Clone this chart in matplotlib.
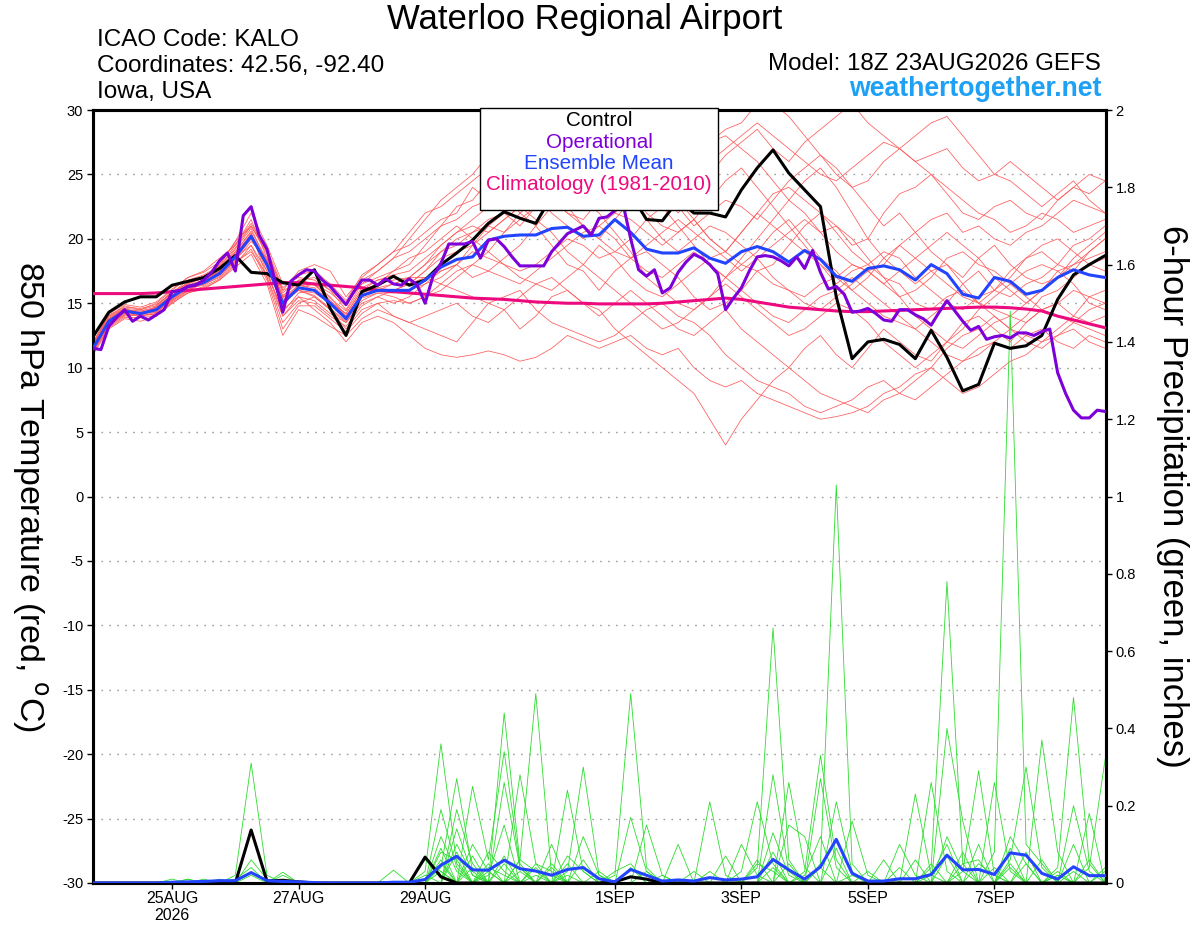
import matplotlib
matplotlib.use("Agg")
import matplotlib.pyplot as plt
import pandas as pd

plt.rcParams['font.family'] = ['Liberation Sans', 'DejaVu Sans']

# ---------------- DATA ----------------
run_start = "2026-08-23 18:00"
n_steps = 65          # 6-hourly ensemble output
n_steps_oper = 129    # 3-hourly operational output

title = "Waterloo Regional Airport"
header_left = ["ICAO Code: KALO", "Coordinates: 42.56, -92.40", "Iowa, USA"]
model_text = "Model: 18Z 23AUG2026 GEFS"
site_text = "weathertogether.net"
legend_labels = ["Control", "Operational", "Ensemble Mean", "Climatology (1981-2010)"]
tick_dates = ["2026-08-25", "2026-08-27", "2026-08-29", "2026-09-01", "2026-09-03", "2026-09-05", "2026-09-07"]
tick_labels = ["25AUG\n2026", "27AUG", "29AUG", "1SEP", "3SEP", "5SEP", "7SEP"]
temp_ticks = [30, 25, 20, 15, 10, 5, 0, -5, -10, -15, -20, -25, -30]
precip_ticks = [0, 0.2, 0.4, 0.6, 0.8, 1, 1.2, 1.4, 1.6, 1.8, 2]
precip_tick_labels = ["0", "0.2", "0.4", "0.6", "0.8", "1", "1.2", "1.4", "1.6", "1.8", "2"]

control_t = [12.4, 14.3, 15.1, 15.5, 15.5, 16.4, 16.7, 17.0, 17.7, 18.7, 17.4, 17.3, 16.6,
             16.4, 17.6, 14.6, 12.5, 15.9, 16.4, 17.1, 16.4, 16.8, 18.0, 18.9, 19.9, 21.2,
             22.1, 21.6, 21.2, 23.3, 24.0, 24.5, 24.5, 24.0, 23.5, 21.5, 21.4, 23.0, 22.0,
             22.0, 21.7, 23.8, 25.5, 26.9, 25.1, 23.8, 22.5, 15.5, 10.7, 12.0, 12.2, 11.8,
             10.7, 12.9, 10.8, 8.2, 8.7, 11.9, 11.5, 11.7, 12.5, 15.3, 17.2, 18.0, 18.7]

mean_t = [11.5, 13.6, 14.4, 14.2, 14.5, 15.5, 16.3, 16.6, 17.3, 18.6, 20.2, 18.0, 15.0,
          16.2, 16.0, 15.0, 13.8, 15.6, 16.0, 16.0, 16.0, 16.8, 17.8, 18.4, 18.6, 19.9,
          20.2, 20.3, 20.3, 20.8, 20.9, 20.2, 20.3, 21.5, 20.5, 19.2, 18.9, 18.9, 19.3,
          18.5, 18.1, 19.0, 19.4, 19.0, 18.2, 19.1, 18.4, 17.1, 16.7, 17.7, 17.9, 17.6,
          16.8, 18.0, 17.3, 15.7, 15.4, 17.0, 16.7, 15.7, 16.0, 17.0, 17.6, 17.2, 17.0]

clim_t = [15.75, 15.75, 15.75, 15.75, 15.8, 15.9, 16.0, 16.1, 16.2, 16.3, 16.4, 16.5, 16.6,
          16.6, 16.5, 16.4, 16.3, 16.2, 16.0, 15.9, 15.8, 15.7, 15.6, 15.5, 15.4, 15.35,
          15.3, 15.2, 15.1, 15.05, 15.0, 15.0, 14.95, 14.95, 14.95, 14.95, 15.0, 15.1, 15.2,
          15.3, 15.4, 15.3, 15.1, 14.9, 14.7, 14.6, 14.5, 14.4, 14.35, 14.35, 14.4, 14.45,
          14.5, 14.55, 14.6, 14.65, 14.7, 14.7, 14.65, 14.55, 14.4, 14.0, 13.7, 13.4, 13.1]

oper_t = [11.5, 11.4, 13.2, 13.9, 14.5, 13.6, 14.0, 13.7, 14.1, 14.5, 15.9, 16.0, 16.3,
          16.4, 16.8, 17.4, 18.3, 18.9, 17.5, 21.8, 22.5, 20.3, 19.2, 16.8, 14.3, 16.7,
          17.2, 17.6, 17.5, 16.8, 16.3, 15.6, 14.9, 15.9, 16.8, 16.8, 16.4, 16.9, 16.5,
          16.4, 16.9, 16.4, 15.0, 17.1, 18.1, 19.6, 19.6, 19.6, 19.8, 18.5, 19.9, 20.0,
          19.4, 18.6, 17.9, 17.9, 17.9, 17.9, 19.0, 19.7, 20.4, 20.7, 21.0, 20.3, 21.6,
          21.7, 22.2, 22.8, 20.0, 17.6, 17.1, 17.6, 15.8, 16.2, 17.4, 18.2, 18.8, 18.5,
          18.0, 17.3, 14.5, 15.4, 16.2, 17.5, 18.6, 18.7, 18.6, 18.3, 17.9, 18.6, 17.7,
          19.1, 17.4, 16.1, 16.3, 15.7, 14.3, 14.4, 14.6, 14.2, 13.7, 13.6, 14.5, 14.5,
          14.1, 13.8, 13.3, 14.3, 15.2, 14.4, 13.6, 12.9, 13.2, 12.2, 12.4, 12.5, 12.3,
          12.7, 12.7, 12.5, 12.8, 13.0, 9.6, 8.0, 6.7, 6.1, 6.1, 6.7, 6.6]

member_t_01 = [11.8, 13.9, 14.6, 14.0, 14.8, 15.9, 16.5, 17.0, 17.8, 19.5, 21.5, 18.5, 15.5, 16.8, 17.0, 16.0, 14.5, 16.5, 17.0, 17.5, 18.0, 19.5, 21.0, 22.5, 23.0, 24.5, 25.0, 24.0, 23.5, 25.0, 26.0, 25.5, 24.0, 25.5, 24.0, 22.5, 23.0, 25.0, 26.5, 27.5, 28.0, 27.0, 26.0, 24.5, 23.0, 22.0, 20.5, 21.0, 19.5, 20.0, 22.0, 23.5, 24.0, 25.0, 23.5, 22.0, 21.5, 22.5, 23.0, 22.0, 21.5, 23.0, 24.0, 23.5, 24.5]
member_t_02 = [11.2, 13.4, 14.2, 14.3, 14.0, 15.2, 16.0, 16.8, 17.5, 19.0, 20.5, 17.0, 13.5, 15.0, 15.5, 14.5, 13.0, 14.5, 15.0, 14.0, 13.5, 13.0, 12.5, 12.0, 13.5, 15.0, 14.5, 13.0, 14.0, 15.5, 16.0, 15.0, 14.5, 13.0, 12.0, 11.0, 10.0, 9.0, 8.0, 6.0, 4.0, 6.0, 7.5, 9.0, 10.0, 11.5, 12.5, 11.0, 10.0, 11.5, 13.0, 12.0, 11.0, 10.5, 12.0, 13.5, 14.0, 13.0, 12.0, 13.5, 14.5, 15.0, 14.0, 13.5, 14.0]
member_t_03 = [11.0, 13.0, 13.8, 13.6, 14.0, 15.0, 15.8, 16.2, 16.8, 18.0, 19.5, 17.5, 14.0, 15.5, 14.5, 13.5, 12.0, 13.5, 14.0, 13.5, 12.5, 11.5, 11.0, 10.8, 11.0, 11.3, 11.0, 10.5, 10.8, 11.5, 12.5, 12.0, 11.5, 12.0, 12.5, 11.5, 11.0, 11.5, 10.0, 9.0, 8.5, 9.0, 8.0, 7.5, 7.0, 6.5, 6.0, 6.2, 6.5, 7.0, 8.0, 8.5, 9.5, 10.0, 9.0, 8.0, 8.5, 9.5, 10.5, 11.0, 12.0, 12.5, 13.0, 12.0, 11.5]
member_t_04 = [12.0, 14.0, 14.8, 14.5, 15.0, 16.0, 17.0, 17.5, 18.5, 19.5, 21.0, 19.0, 16.0, 17.5, 18.0, 17.5, 15.5, 17.0, 18.0, 19.0, 19.5, 20.5, 21.5, 22.0, 24.0, 23.0, 22.5, 24.0, 25.5, 25.0, 24.5, 26.0, 27.5, 26.0, 25.0, 24.5, 26.0, 27.0, 26.5, 27.5, 28.5, 29.0, 30.5, 30.5, 29.5, 28.0, 26.5, 25.0, 24.0, 22.5, 21.0, 22.0, 20.5, 21.5, 22.0, 20.5, 21.0, 20.0, 19.5, 20.5, 21.0, 22.0, 23.0, 22.5, 22.0]
member_t_05 = [11.6, 13.7, 14.4, 14.4, 14.6, 15.6, 16.4, 16.8, 17.6, 19.2, 20.8, 18.2, 15.2, 16.4, 16.5, 15.5, 14.0, 15.8, 16.5, 16.8, 17.0, 18.0, 19.5, 20.5, 21.5, 22.5, 23.5, 22.0, 21.0, 19.5, 18.0, 17.5, 16.0, 17.5, 18.5, 19.0, 18.0, 17.0, 15.5, 14.5, 15.0, 16.0, 17.5, 18.0, 19.5, 21.0, 22.0, 21.0, 20.0, 18.5, 17.0, 15.5, 14.0, 13.0, 12.0, 11.5, 12.5, 13.5, 14.0, 15.0, 16.0, 17.5, 18.0, 18.5, 19.0]
member_t_06 = [11.4, 13.5, 14.3, 14.0, 14.2, 15.3, 16.1, 16.5, 17.0, 18.3, 19.8, 18.5, 15.5, 16.0, 15.5, 14.5, 13.5, 15.0, 15.5, 15.0, 15.5, 16.5, 17.5, 18.0, 17.0, 17.5, 18.5, 19.5, 21.0, 22.5, 24.0, 23.0, 22.0, 20.5, 19.0, 17.0, 16.0, 15.0, 14.5, 15.5, 17.0, 18.5, 20.0, 21.5, 23.0, 24.5, 25.5, 24.0, 22.0, 20.0, 18.5, 17.5, 16.5, 17.5, 18.0, 16.5, 15.0, 14.0, 13.0, 12.5, 12.0, 13.0, 14.0, 15.5, 16.0]
member_t_07 = [11.7, 13.8, 14.5, 14.1, 14.7, 15.7, 16.6, 16.9, 17.4, 18.9, 20.3, 17.8, 14.8, 16.2, 16.5, 15.2, 14.2, 16.0, 16.8, 17.0, 16.5, 17.5, 19.0, 20.0, 20.5, 21.5, 22.0, 23.0, 24.5, 23.0, 22.0, 21.5, 23.0, 24.5, 23.5, 21.5, 20.0, 19.0, 20.0, 21.0, 20.5, 19.5, 18.5, 17.0, 16.0, 15.0, 14.5, 15.5, 16.5, 17.5, 18.0, 19.5, 20.5, 19.0, 18.0, 17.0, 18.5, 19.5, 18.0, 17.0, 16.5, 17.0, 18.5, 19.5, 20.5]
member_t_08 = [11.3, 13.3, 14.1, 14.2, 14.3, 15.4, 16.2, 16.4, 17.1, 18.4, 20.0, 18.3, 15.3, 16.0, 15.8, 15.0, 14.0, 15.5, 16.0, 16.5, 17.0, 17.0, 16.5, 16.0, 15.5, 15.0, 15.5, 16.0, 14.5, 13.5, 13.0, 12.5, 12.0, 12.5, 13.5, 14.5, 15.0, 14.0, 13.5, 12.5, 11.0, 10.0, 9.0, 8.5, 8.0, 7.0, 6.5, 7.0, 7.5, 8.5, 9.0, 8.0, 7.5, 8.5, 9.5, 10.5, 11.0, 12.0, 11.5, 12.5, 13.0, 12.0, 11.5, 12.5, 12.0]
member_t_09 = [11.9, 14.1, 14.7, 14.6, 14.9, 15.8, 16.8, 17.2, 17.9, 19.8, 22.0, 19.5, 16.5, 17.0, 16.8, 16.0, 15.0, 16.5, 17.5, 18.5, 19.0, 20.0, 21.0, 21.5, 22.5, 23.0, 22.0, 21.0, 22.5, 24.5, 25.5, 26.5, 27.0, 26.0, 24.0, 22.0, 21.0, 20.5, 21.5, 23.0, 24.5, 25.5, 24.0, 22.5, 21.0, 19.5, 18.0, 16.5, 17.5, 18.0, 19.0, 18.5, 17.0, 16.0, 15.0, 14.5, 15.5, 16.0, 17.0, 18.5, 19.0, 18.0, 17.5, 19.0, 20.0]
member_t_10 = [11.5, 13.6, 14.4, 14.3, 14.5, 15.5, 16.3, 16.7, 17.3, 18.5, 19.5, 17.0, 14.0, 15.2, 15.0, 14.0, 13.2, 14.8, 15.5, 16.0, 16.5, 17.0, 17.5, 18.0, 19.0, 18.5, 18.0, 17.5, 18.0, 19.0, 20.0, 19.5, 18.5, 19.0, 20.0, 21.5, 22.5, 21.0, 19.5, 18.0, 17.0, 18.0, 19.0, 20.5, 21.5, 20.0, 18.5, 17.5, 16.0, 15.0, 14.0, 13.5, 13.0, 14.0, 15.0, 16.5, 17.5, 16.0, 15.5, 16.5, 17.0, 18.0, 19.5, 20.0, 21.0]
member_t_11 = [11.8, 14.0, 14.6, 14.2, 14.6, 15.6, 16.5, 17.0, 18.0, 19.8, 21.0, 18.8, 15.8, 16.8, 16.5, 15.8, 14.8, 16.8, 17.5, 18.5, 20.0, 21.5, 23.0, 24.0, 25.0, 26.5, 27.0, 28.0, 27.5, 26.0, 25.0, 26.0, 27.5, 28.5, 27.0, 25.5, 24.0, 23.0, 21.5, 20.0, 19.0, 18.0, 17.5, 16.5, 16.0, 15.5, 16.5, 17.0, 18.0, 17.5, 16.5, 15.5, 16.0, 17.0, 18.5, 19.0, 18.0, 17.5, 16.5, 15.5, 14.5, 14.0, 13.5, 13.0, 12.5]
member_t_12 = [11.1, 13.2, 14.0, 14.1, 14.1, 15.1, 15.9, 16.3, 16.9, 18.1, 19.2, 16.8, 13.0, 14.8, 14.8, 13.8, 12.8, 14.2, 15.0, 15.2, 15.0, 15.5, 16.0, 17.0, 18.0, 19.0, 18.0, 17.0, 16.5, 16.0, 17.0, 18.0, 19.5, 18.5, 17.0, 16.0, 15.5, 16.5, 17.5, 18.5, 19.0, 20.5, 22.0, 23.5, 24.0, 23.0, 22.0, 20.5, 19.0, 18.0, 17.0, 16.5, 15.0, 14.5, 15.5, 16.0, 15.0, 14.5, 14.0, 13.5, 14.5, 15.0, 16.0, 15.5, 15.0]
member_t_13 = [11.6, 13.7, 14.5, 14.4, 14.7, 15.6, 16.4, 16.8, 17.7, 19.0, 20.6, 18.4, 15.6, 16.6, 16.4, 15.4, 14.4, 16.2, 16.8, 17.2, 17.5, 18.5, 19.5, 20.5, 21.0, 20.5, 21.5, 22.5, 23.5, 22.0, 21.0, 20.0, 21.0, 22.0, 23.5, 25.0, 24.0, 22.5, 21.0, 22.0, 23.0, 22.5, 21.5, 23.0, 24.5, 25.5, 26.5, 25.5, 24.0, 24.5, 26.0, 27.0, 28.0, 29.0, 29.5, 28.0, 26.5, 25.0, 24.5, 23.5, 22.5, 23.5, 24.5, 23.0, 22.0]
member_t_14 = [11.4, 13.4, 14.2, 14.2, 14.4, 15.3, 16.2, 16.6, 17.2, 18.2, 19.0, 17.2, 14.5, 15.5, 15.2, 14.2, 13.5, 15.2, 15.8, 15.5, 15.0, 15.5, 16.5, 17.5, 18.0, 17.5, 17.0, 16.5, 17.5, 18.5, 19.5, 20.5, 21.0, 20.0, 18.5, 17.5, 17.0, 18.0, 19.0, 18.0, 17.0, 16.0, 15.0, 14.0, 13.5, 14.5, 15.5, 16.0, 17.0, 16.0, 15.0, 14.0, 13.0, 12.0, 11.0, 10.5, 11.5, 12.0, 13.0, 14.0, 15.5, 16.0, 17.0, 18.0, 17.5]
member_t_15 = [11.9, 14.2, 14.9, 14.7, 15.1, 16.1, 17.0, 17.4, 18.2, 19.6, 21.2, 19.2, 16.2, 17.2, 17.5, 16.5, 15.2, 17.2, 18.0, 19.0, 20.5, 22.0, 22.5, 23.5, 24.5, 25.5, 26.0, 25.0, 26.5, 27.5, 28.5, 27.0, 28.0, 29.0, 28.0, 26.0, 25.0, 24.0, 25.0, 26.0, 27.0, 28.0, 29.0, 28.0, 27.0, 26.0, 25.0, 24.5, 25.5, 26.5, 27.5, 27.0, 26.0, 25.0, 24.0, 23.0, 22.0, 21.5, 20.5, 21.0, 22.0, 21.5, 20.5, 21.0, 21.5]
member_t_16 = [11.3, 13.3, 14.1, 14.0, 14.3, 15.2, 16.0, 16.5, 17.3, 18.8, 20.3, 17.5, 14.3, 15.8, 16.0, 15.0, 13.8, 15.6, 16.2, 16.0, 16.5, 17.5, 18.5, 19.0, 19.5, 20.5, 21.5, 22.5, 21.5, 20.5, 19.0, 18.0, 17.0, 16.0, 15.0, 14.0, 13.0, 13.5, 14.5, 15.5, 16.5, 15.5, 14.5, 13.5, 12.5, 13.0, 14.0, 15.0, 14.5, 13.5, 12.0, 11.0, 10.0, 11.0, 12.0, 13.0, 14.5, 15.5, 16.5, 17.5, 18.0, 17.5, 16.5, 15.0, 14.5]
member_t_17 = [11.2, 13.1, 13.9, 13.9, 14.0, 15.0, 15.8, 16.1, 16.8, 17.8, 18.8, 16.5, 12.5, 14.5, 14.0, 13.2, 12.5, 13.8, 14.5, 14.0, 13.5, 14.0, 14.5, 15.0, 14.0, 13.5, 14.5, 15.5, 16.5, 17.0, 16.0, 15.0, 14.0, 15.0, 16.0, 15.0, 14.0, 13.0, 12.5, 13.5, 14.5, 13.0, 12.0, 11.0, 10.0, 9.0, 8.0, 7.5, 7.0, 6.5, 7.5, 8.0, 9.0, 10.0, 11.5, 12.5, 13.0, 14.0, 13.0, 12.0, 11.5, 12.5, 13.5, 14.5, 15.0]
member_t_18 = [11.7, 13.8, 14.6, 14.5, 14.8, 15.8, 16.6, 17.1, 17.8, 19.3, 21.0, 19.0, 16.0, 16.5, 16.0, 15.0, 14.2, 16.0, 16.5, 17.5, 18.5, 19.0, 20.0, 21.0, 20.0, 19.0, 20.5, 22.0, 23.0, 24.5, 25.0, 24.0, 23.0, 22.0, 21.5, 20.5, 19.5, 20.5, 21.5, 20.0, 19.0, 20.5, 22.0, 21.0, 20.0, 19.0, 18.0, 17.0, 16.0, 17.0, 18.5, 19.5, 18.5, 17.5, 16.5, 15.5, 15.0, 16.0, 17.5, 18.5, 19.5, 20.0, 19.0, 18.0, 18.5]
member_t_19 = [11.5, 13.5, 14.3, 14.3, 14.4, 15.4, 16.3, 16.6, 17.4, 18.7, 20.0, 18.0, 15.0, 16.0, 15.6, 14.6, 13.6, 15.4, 15.8, 15.8, 16.0, 16.5, 17.0, 18.0, 19.5, 21.0, 22.0, 23.5, 24.5, 23.0, 22.0, 21.0, 20.0, 19.0, 18.5, 19.5, 20.5, 21.5, 20.5, 19.5, 18.5, 17.5, 18.5, 19.5, 20.5, 21.5, 20.5, 19.0, 18.0, 17.5, 16.5, 17.5, 18.5, 19.5, 20.5, 19.5, 18.5, 17.0, 16.0, 15.0, 16.0, 17.0, 18.0, 19.0, 20.0]
member_t_20 = [11.6, 13.6, 14.4, 14.2, 14.6, 15.5, 16.4, 16.7, 17.5, 18.6, 20.4, 18.2, 15.4, 16.4, 16.2, 15.2, 14.0, 15.8, 16.2, 16.5, 17.0, 18.0, 19.0, 19.5, 20.5, 21.0, 20.5, 21.5, 22.5, 23.5, 22.5, 21.0, 20.0, 21.5, 23.0, 24.5, 23.5, 22.0, 23.5, 25.0, 26.5, 27.5, 28.5, 27.0, 26.0, 27.5, 28.5, 29.5, 30.5, 29.0, 28.0, 27.0, 26.0, 26.5, 27.0, 25.5, 24.5, 25.0, 26.0, 25.0, 24.0, 23.0, 24.0, 25.0, 24.5]

members_t = [member_t_01, member_t_02, member_t_03, member_t_04, member_t_05, member_t_06, member_t_07,
             member_t_08, member_t_09, member_t_10, member_t_11, member_t_12, member_t_13, member_t_14,
             member_t_15, member_t_16, member_t_17, member_t_18, member_t_19, member_t_20]

# 6-hour precipitation (inches)
control_p = [0, 0, 0, 0, 0, 0, 0, 0, 0, 0, 0.137, 0.005, 0.007, 0.003, 0, 0, 0, 0, 0, 0,
             0, 0.067, 0.016, 0, 0, 0, 0, 0, 0, 0, 0, 0, 0, 0.003, 0.016, 0.01, 0, 0, 0,
             0, 0, 0, 0, 0, 0, 0, 0, 0, 0, 0, 0, 0, 0, 0, 0, 0, 0, 0, 0, 0, 0, 0, 0, 0, 0]

mean_p = [0, 0, 0, 0, 0, 0.002, 0.003, 0.004, 0.006, 0.006, 0.027, 0.006, 0.004, 0.003, 0.001, 0, 0,
          0, 0, 0.002, 0.002, 0.009, 0.046, 0.069, 0.034, 0.033, 0.059, 0.037, 0.031, 0.02, 0.035,
          0.04, 0.011, 0.003, 0.035, 0.02, 0.005, 0.008, 0.005, 0.014, 0.008, 0.01, 0.016, 0.061,
          0.034, 0.01, 0.042, 0.113, 0.025, 0.005, 0.005, 0.011, 0.011, 0.022, 0.072, 0.034, 0.035,
          0.022, 0.078, 0.072, 0.025, 0.01, 0.042, 0.019, 0.019]

def _p(spikes):
    return [spikes.get(i, 0.0) for i in range(65)]

member_p_01 = _p({9: 0.02, 10: 0.31, 11: 0.02, 21: 0.03, 22: 0.36, 23: 0.05, 25: 0.02, 26: 0.15, 33: 0.02, 34: 0.49, 35: 0.04, 46: 0.05, 47: 1.03, 48: 0.05, 53: 0.02, 54: 0.10})
member_p_02 = _p({6: 0.01, 10: 0.06, 11: 0.01, 22: 0.04, 23: 0.27, 24: 0.03, 27: 0.06, 28: 0.49, 29: 0.02, 42: 0.04, 43: 0.66, 44: 0.06, 57: 0.08, 58: 1.48, 59: 0.10, 60: 0.05})
member_p_03 = _p({5: 0.01, 12: 0.028, 22: 0.19, 23: 0.04, 26: 0.44, 27: 0.05, 30: 0.03, 31: 0.30, 32: 0.02, 45: 0.03, 46: 0.33, 47: 0.06, 53: 0.04, 54: 0.78, 55: 0.05, 61: 0.04, 62: 0.48, 63: 0.05})
member_p_04 = _p({7: 0.01, 24: 0.25, 25: 0.06, 26: 0.34, 27: 0.04, 30: 0.24, 31: 0.03, 41: 0.03, 42: 0.21, 43: 0.05, 55: 0.03, 56: 0.29, 57: 0.02, 63: 0.04, 64: 0.32})
member_p_05 = _p({8: 0.01, 23: 0.19, 24: 0.05, 27: 0.28, 28: 0.05, 34: 0.17, 35: 0.03, 44: 0.26, 45: 0.04, 53: 0.26, 54: 0.03, 58: 0.06, 59: 0.30, 60: 0.04})
member_p_06 = _p({19: 0.033, 22: 0.12, 23: 0.03, 26: 0.26, 27: 0.04, 29: 0.10, 39: 0.21, 40: 0.02, 43: 0.28, 44: 0.03, 52: 0.23, 53: 0.02, 60: 0.37, 61: 0.08})
member_p_07 = _p({6: 0.01, 12: 0.02, 25: 0.08, 26: 0.03, 35: 0.15, 36: 0.02, 46: 0.27, 47: 0.04, 54: 0.40, 55: 0.16, 63: 0.18})
member_p_08 = _p({21: 0.06, 22: 0.03, 24: 0.10, 25: 0.03, 31: 0.12, 32: 0.02, 43: 0.13, 44: 0.02, 48: 0.16, 49: 0.02, 57: 0.26, 58: 0.03, 62: 0.20, 63: 0.03})
member_p_09 = _p({22: 0.08, 23: 0.06, 28: 0.05, 29: 0.03, 37: 0.10, 44: 0.15, 45: 0.12, 51: 0.10, 52: 0.02, 55: 0.05, 56: 0.06, 61: 0.03})
member_p_10 = _p({10: 0.02, 23: 0.14, 24: 0.02, 27: 0.06, 28: 0.03, 41: 0.10, 42: 0.02, 47: 0.21, 48: 0.03, 50: 0.06, 58: 0.12, 59: 0.05, 64: 0.04})
member_p_11 = _p({22: 0.05, 25: 0.04, 26: 0.02, 30: 0.07, 31: 0.03, 40: 0.07, 45: 0.02, 46: 0.12, 56: 0.05, 57: 0.02, 59: 0.08, 62: 0.03})
member_p_12 = _p({23: 0.10, 24: 0.02, 29: 0.05, 33: 0.03, 34: 0.05, 42: 0.05, 43: 0.03, 54: 0.12, 55: 0.03, 58: 0.05, 61: 0.02})
member_p_13 = _p({22: 0.09, 24: 0.04, 26: 0.07, 28: 0.02, 30: 0.05, 36: 0.02, 38: 0.03, 43: 0.08, 49: 0.03, 51: 0.04, 56: 0.10, 60: 0.06})
member_p_14 = _p({21: 0.02, 23: 0.08, 25: 0.05, 27: 0.03, 31: 0.06, 35: 0.03, 42: 0.06, 47: 0.09, 53: 0.05, 57: 0.04, 59: 0.05, 62: 0.10})
member_p_15 = _p({22: 0.03, 24: 0.07, 26: 0.05, 29: 0.04, 32: 0.03, 39: 0.03, 44: 0.05, 46: 0.04, 52: 0.06, 54: 0.07, 58: 0.04, 63: 0.06})
member_p_16 = _p({9: 0.01, 10: 0.04, 22: 0.06, 25: 0.03, 28: 0.04, 30: 0.02, 34: 0.04, 43: 0.04, 48: 0.02, 55: 0.08, 58: 0.09, 61: 0.02, 64: 0.03})

members_p = [member_p_01, member_p_02, member_p_03, member_p_04, member_p_05, member_p_06, member_p_07,
             member_p_08, member_p_09, member_p_10, member_p_11, member_p_12, member_p_13, member_p_14,
             member_p_15, member_p_16]

# ---------------- STYLE ----------------
C_RED = '#ff5a5a'
C_GREEN = '#2edc2e'
C_CONTROL = '#000000'
C_OPER = '#7d00d8'
C_MEAN = '#2244ff'
C_CLIM = '#ec0a7e'
C_SITE = '#1ea0f5'

times = pd.date_range(run_start, periods=n_steps, freq="6h")
times_oper = pd.date_range(run_start, periods=n_steps_oper, freq="3h")

fig = plt.figure(figsize=(12, 9.27), dpi=100)
ax = fig.add_axes([93/1200, 1 - 883/927, (1106 - 93)/1200, (883 - 110)/927])
ax_p = ax.twinx()
ax_top = ax.twinx()

# layer order: red members (ax) < green precip (ax_p) < main temperature lines (ax_top)
for m in members_t:
    ax.plot(times, m, color=C_RED, lw=0.55, zorder=2)
for m in members_p:
    ax_p.plot(times, m, color=C_GREEN, lw=0.6, zorder=2)
ax_p.plot(times, control_p, color=C_CONTROL, lw=2.2, zorder=3)
ax_p.plot(times, mean_p, color=C_MEAN, lw=2.2, zorder=4)

ax_top.plot(times, clim_t, color=C_CLIM, lw=2.2, zorder=3)
ax_top.plot(times, control_t, color=C_CONTROL, lw=2.2, zorder=4)
ax_top.plot(times, mean_t, color=C_MEAN, lw=2.2, zorder=5)
ax_top.plot(times_oper, oper_t, color=C_OPER, lw=2.2, zorder=6)

x0, x1 = times[0], times[-1] + pd.Timedelta(minutes=20)
for a in (ax, ax_p, ax_top):
    a.set_xlim(x0, x1)
ax.set_ylim(-30, 30)
ax_top.set_ylim(-30, 30)
ax_p.set_ylim(0, 2)

ax_top.axis('off')

ax.set_yticks(temp_ticks)
ax.set_yticklabels([str(t) for t in temp_ticks])
ax.yaxis.grid(True, linestyle=(0, (1.2, 4.5)), color='#a0a0a0', linewidth=1.0)
ax.set_axisbelow(True)
ax_p.set_yticks(precip_ticks)
ax_p.set_yticklabels(precip_tick_labels)

ax.set_xticks(pd.to_datetime(tick_dates))
ax.set_xticklabels(tick_labels)
ax.tick_params(axis='x', direction='out', length=4, width=1, labelsize=11.5, pad=2)
ax.tick_params(axis='y', direction='out', length=4, width=1, labelsize=10.5, pad=3)
ax_p.tick_params(axis='y', direction='out', length=4, width=1, labelsize=10.5, pad=3)
for lab in ax.get_xticklabels():
    lab.set_linespacing(1.1)

for a in (ax, ax_p):
    for s in a.spines.values():
        s.set_linewidth(2.2)

ax.set_ylabel("850 hPa Temperature (red, $^\\mathrm{o}$C)", fontsize=24.5, rotation=270,
              labelpad=0, va='center')
ax.yaxis.set_label_coords(-0.0625, 0.5)
ax_p.set_ylabel("6-hour Precipitation (green, inches)", fontsize=25, rotation=270,
                va='center')
ax_p.yaxis.set_label_coords(1.0655, 0.5)

# header texts
fig.text(585/1200, 1 - 19/927, title, ha='center', va='center', fontsize=25)
for k, line in enumerate(header_left):
    fig.text(97/1200, 1 - (40 + 26*k)/927, line, ha='left', va='center', fontsize=17.5)
fig.text(1101/1200, 1 - 64/927, model_text, ha='right', va='center', fontsize=17.4)
fig.text(1101/1200, 1 - 89/927, site_text, ha='right', va='center', fontsize=19.2,
         fontweight='bold', color=C_SITE)

# legend box
lx0, lx1, ly0, ly1 = 480, 718, 108, 210
box = plt.Rectangle((lx0/1200, 1 - ly1/927), (lx1 - lx0)/1200, (ly1 - ly0)/927,
                    transform=fig.transFigure, facecolor='white', edgecolor='black',
                    linewidth=1.0, zorder=10)
fig.patches.append(box)
leg_colors = [C_CONTROL, C_OPER, C_MEAN, C_CLIM]
for k, (lab, col) in enumerate(zip(legend_labels, leg_colors)):
    fig.text(599/1200, 1 - (121 + 21.3*k)/927, lab, ha='center', va='center',
             fontsize=14.9, color=col, zorder=11)

fig.savefig("out.png", dpi=100)
